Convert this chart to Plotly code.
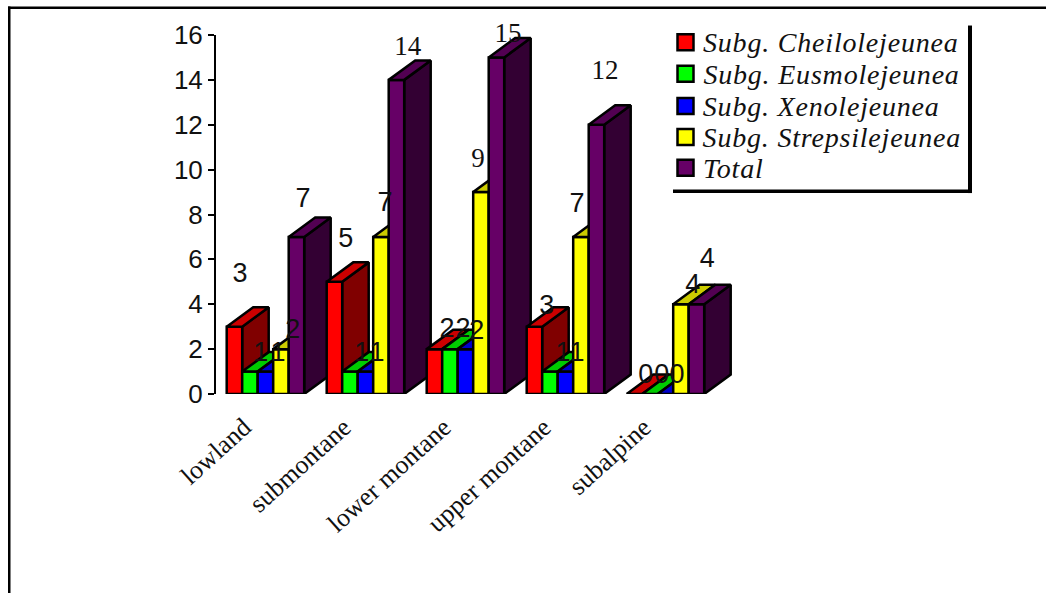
import plotly.graph_objects as go

# Species counts per elevation zone
ZONES = ["lowland", "submontane", "lower montane", "upper montane", "subalpine"]
SERIES = ["Subg. Cheilolejeunea", "Subg. Eusmolejeunea", "Subg. Xenolejeunea",
          "Subg. Strepsilejeunea", "Total"]
CHEILOLEJEUNEA = [3, 5, 2, 3, 0]
EUSMOLEJEUNEA = [1, 1, 2, 1, 0]
XENOLEJEUNEA = [1, 1, 2, 1, 0]
STREPSILEJEUNEA = [2, 7, 9, 7, 4]
TOTAL = [7, 14, 15, 12, 4]
Y_TICKS = [0, 2, 4, 6, 8, 10, 12, 14, 16]

VALUES = [CHEILOLEJEUNEA, EUSMOLEJEUNEA, XENOLEJEUNEA, STREPSILEJEUNEA, TOTAL]

# Front, top and side shades of each series
FRONT = ["#ff0000", "#00ff00", "#0000ff", "#ffff00", "#660066"]
TOP = ["#cc0000", "#00cc00", "#0000cc", "#cccc00", "#520052"]
SIDE = ["#800000", "#008000", "#000080", "#808000", "#330033"]

# Page geometry in pixels
W, H = 1046, 594
LEFT, RIGHT, AXIS_TOP, AXIS_BOTTOM = 216, 740, 34.5, 394.5
PX_PER_UNIT_Y = (AXIS_BOTTOM - AXIS_TOP) / 16
PX_PER_GROUP = 100

# Bar extrusion and layout, in axis units
GROUP_START = 0.107
BAR_W = 0.155
DEPTH_X = 26.5 / PX_PER_GROUP
DEPTH_Y = 19.5 / PX_PER_UNIT_Y

# Hand-placed label offsets (dx, dy in px from the centre of each bar's top edge),
# one row per zone and one column per series
LABEL_OFFSETS = [
    [(5.5, -52), (10.7, -17), (12.5, -17), (11.7, -17.5), (6.5, -37)],
    [(11.2, -42), (11.7, -17), (11.5, -17), (4, -33), (11.2, -32)],
    [(12.5, -18.5), (13, -18.5), (11.2, -17), (-3, -32), (11.5, -22)],
    [(12.2, -19), (13, -17), (11.5, -17), (-4, -32), (8.5, -52.5)],
    [(11.2, -18), (11.7, -18), (11.5, -18), (11.7, -18.5), (10.8, -44.5)],
]
SANS = "Liberation Sans"
SERIF = "Liberation Serif"
LABEL_FONTS = [
    [SANS, SANS, SANS, SANS, SANS],
    [SANS, SANS, SANS, SANS, SERIF],
    [SANS, SANS, SANS, SERIF, SERIF],
    [SANS, SANS, SANS, SANS, SERIF],
    [SANS, SANS, SANS, SANS, SANS],
]
LABEL_SIZES = {SANS: 27, SERIF: 27}
LEGEND_TRACKING = 0.8
EDGE = 2.5


def face(xs, ys, colour):
    return go.Scatter(x=xs + xs[:1], y=ys + ys[:1], mode="lines", fill="toself",
                      fillcolor=colour, line=dict(color="black", width=EDGE),
                      hoverinfo="skip", showlegend=False)


def px_x(px):
    return (px - LEFT) / (RIGHT - LEFT)


def px_y(py):
    return (AXIS_BOTTOM - py) / (AXIS_BOTTOM - AXIS_TOP)


def px_rect(x0, y0, x1, y1, fill, line=None):
    return dict(type="rect", xref="paper", yref="paper",
                x0=px_x(x0), x1=px_x(x1), y0=px_y(y0), y1=px_y(y1),
                fillcolor=fill, layer="above",
                line=dict(color="black", width=line) if line else dict(width=0))


fig = go.Figure()

# Bars are painted left to right so nearer faces hide the ones behind them
for g in range(len(ZONES)):
    for s, series in enumerate(VALUES):
        v = series[g]
        x0 = g + GROUP_START + s * BAR_W
        x1 = x0 + BAR_W
        fig.add_trace(face([x1, x1 + DEPTH_X, x1 + DEPTH_X, x1],
                           [0, DEPTH_Y, v + DEPTH_Y, v], SIDE[s]))
        fig.add_trace(face([x0, x1, x1, x0], [0, 0, v, v], FRONT[s]))
        fig.add_trace(face([x0, x1, x1 + DEPTH_X, x0 + DEPTH_X],
                           [v, v, v + DEPTH_Y, v + DEPTH_Y], TOP[s]))

# Value labels sit on top of every bar
for g in range(len(ZONES)):
    for s, series in enumerate(VALUES):
        dx, dy = LABEL_OFFSETS[g][s]
        family = LABEL_FONTS[g][s]
        fig.add_trace(go.Scatter(
            x=[g + GROUP_START + (s + 0.5) * BAR_W + dx / PX_PER_GROUP],
            y=[series[g] - dy / PX_PER_UNIT_Y],
            mode="text", text=[str(series[g])], textposition="middle center",
            textfont=dict(family=family, size=LABEL_SIZES[family], color="#111111"),
            cliponaxis=False, hoverinfo="skip", showlegend=False))

# Legend block: drop shadow edges, swatches and italic names
ROWS = [41.7, 73.3, 105.7, 136.7, 167.7]
shapes = [
    px_rect(8, 6, W, 8.5, "black"),
    px_rect(8, 6, 10.5, H, "black"),
    px_rect(968, 25, 972, 193, "black"),
    px_rect(673, 189.5, 972, 193, "black"),
]
annotations = []
for name, colour, row in zip(SERIES, FRONT, ROWS):
    shapes.append(px_rect(677.5, row - 8, 693.5, row + 8, colour, line=EDGE))
    annotations.append(dict(
        xref="paper", yref="paper",
        x=px_x(701 + 0.5 * LEGEND_TRACKING * len(name)), y=px_y(row + 0.5),
        xanchor="left", yanchor="middle", showarrow=False, text=name,
        font=dict(family=SERIF, size=28, color="#111111", style="italic")))

fig.update_layout(
    width=W, height=H, autosize=False,
    margin=dict(l=LEFT, r=W - RIGHT, t=AXIS_TOP, b=H - AXIS_BOTTOM, pad=0),
    paper_bgcolor="white", plot_bgcolor="white", showlegend=False,
    shapes=shapes, annotations=annotations,
    xaxis=dict(range=[0, (RIGHT - LEFT) / PX_PER_GROUP], showgrid=False, zeroline=False,
               showline=False, ticks="", ticklabelstandoff=12,
               tickvals=[g + 0.28 for g in range(len(ZONES))], ticktext=ZONES,
               tickangle=-42, tickfont=dict(family=SERIF, size=26, color="#111111")),
    yaxis=dict(range=[0, 16], tickvals=Y_TICKS, showgrid=False, zeroline=False,
               showline=True, linecolor="black", linewidth=2,
               ticks="outside", ticklen=6, tickwidth=2, tickcolor="black",
               tickfont=dict(family=SANS, size=26, color="#111111")),
)

# Legend names are set with wider tracking
TRACKING = """
document.querySelectorAll('.annotation-text').forEach(function (t) {
    t.style.letterSpacing = '%.2fpx';
});
""" % LEGEND_TRACKING
fig.write_html("out.html", post_script=TRACKING, config={"displayModeBar": False})
